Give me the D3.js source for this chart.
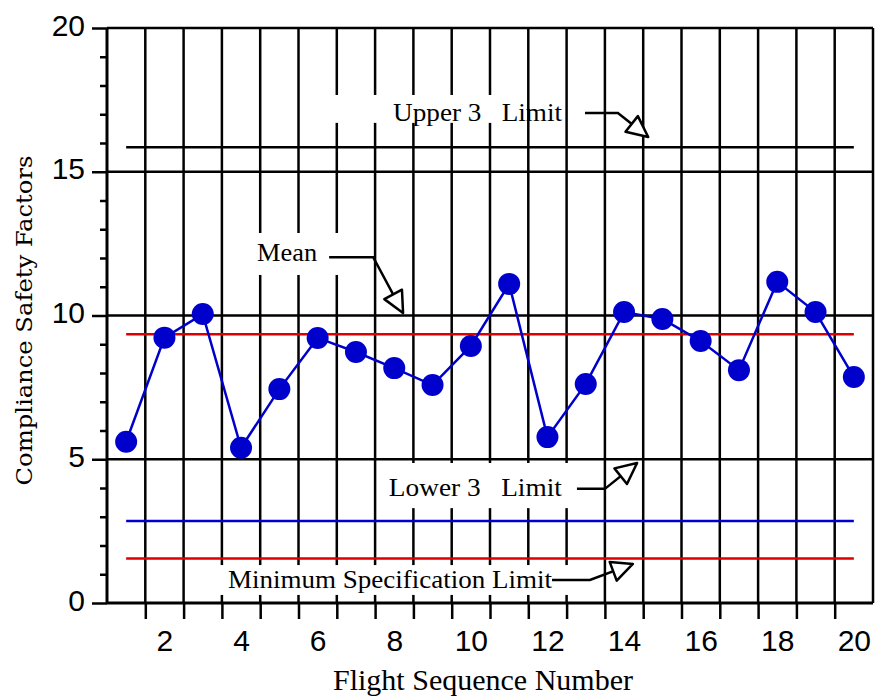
<!DOCTYPE html>
<html>
<head>
<meta charset="utf-8">
<script src="https://cdn.jsdelivr.net/npm/d3@7"></script>
<style>
  body { margin: 0; background: #fff; }
  svg { display: block; }
</style>
</head>
<body>
<svg id="chart" width="875" height="696"></svg>
<script>
// values
const flights = d3.range(1, 21);
const safetyFactors = [5.61, 9.23, 10.05, 5.40, 7.44, 9.22, 8.73, 8.17, 7.58, 8.94,
                       11.10, 5.77, 7.62, 10.12, 9.88, 9.11, 8.10, 11.17, 10.12, 7.86];
const upperLimit = 15.85;
const meanValue = 9.35;
const lowerLimit = 2.85;
const minSpec = 1.55;
const yMajorTicks = [0, 5, 10, 15, 20];
const xTickLabels = [2, 4, 6, 8, 10, 12, 14, 16, 18, 20];

let svg = d3.select("#chart");
let x = d3.scaleLinear().domain([0.5, 20.5]).range([107, 873]);
let y = d3.scaleLinear().domain([0, 20]).range([603, 28]);

const BLUE = "#0000cc";
const RED = "#dd0000";

// arrow head marker
svg.append("defs").append("marker")
    .attr("id", "open-arrow")
    .attr("markerUnits", "userSpaceOnUse")
    .attr("viewBox", "-24 -13 27 26")
    .attr("refX", 0).attr("refY", 0)
    .attr("markerWidth", 27).attr("markerHeight", 26)
    .attr("orient", "auto")
  .append("path")
    .attr("d", "M0,0 L-21,-10 L-21,10 Z")
    .attr("fill", "#fff")
    .attr("stroke", "#000")
    .attr("stroke-width", 2.5)
    .attr("stroke-linejoin", "round");

// grid
let grid = svg.append("g");
grid.selectAll("line.v")
    .data(d3.range(0.5, 20.6, 1))
    .enter().append("line")
    .attr("class", "v")
    .attr("x1", d => x(d)).attr("x2", d => x(d))
    .attr("y1", y(20)).attr("y2", y(0))
    .attr("stroke", "#000")
    .attr("stroke-width", d => d === 0.5 ? 3 : 2.5);
grid.selectAll("line.h")
    .data(yMajorTicks)
    .enter().append("line")
    .attr("class", "h")
    .attr("x1", x(0.5)).attr("x2", x(20.5))
    .attr("y1", d => y(d)).attr("y2", d => y(d))
    .attr("stroke", "#000")
    .attr("stroke-width", d => d === 0 ? 3 : 2.5);

// y axis: major ticks with labels, minor ticks every unit
let yAxis = svg.append("g")
    .attr("transform", `translate(${x(0.5)},0)`)
    .call(d3.axisLeft(y).tickValues(yMajorTicks).tickSize(15).tickPadding(7));
yAxis.select(".domain").remove();
yAxis.selectAll("line").attr("stroke-width", 2.5);
yAxis.selectAll("text")
    .attr("dy", "0.24em")
    .style("font-family", "'Liberation Sans', Arial, sans-serif")
    .style("font-size", "30px")
    .attr("fill", "#000");

let yMinor = svg.append("g")
    .attr("transform", `translate(${x(0.5)},0)`)
    .call(d3.axisLeft(y).tickValues(d3.range(0, 21).filter(v => v % 5 !== 0)).tickSize(7).tickFormat(""));
yMinor.select(".domain").remove();
yMinor.selectAll("line").attr("stroke-width", 2.5);

// x axis: ticks between flights, labels on even flights
let xTicks = svg.append("g")
    .attr("transform", `translate(0,${y(0)})`)
    .call(d3.axisBottom(x).tickValues(d3.range(1.5, 20, 1)).tickSize(16).tickFormat(""));
xTicks.select(".domain").remove();
xTicks.selectAll("line").attr("stroke-width", 2.5);

let xLabels = svg.append("g")
    .attr("transform", `translate(0,${y(0)})`)
    .call(d3.axisBottom(x).tickValues(xTickLabels).tickSize(0).tickPadding(27));
xLabels.select(".domain").remove();
xLabels.selectAll("text")
    .style("font-family", "'Liberation Sans', Arial, sans-serif")
    .style("font-size", "30px")
    .attr("fill", "#000");

// white boxes behind the annotations
const boxes = [
    {x0: 6.32, x1: 10.76, y0: 17.67, y1: 16.70},
    {x0: 4.43, x1: 6.71, y0: 12.87, y1: 11.41},
    {x0: 7.76, x1: 12.85, y0: 4.87, y1: 3.30},
    {x0: 3.32, x1: 12.72, y0: 1.32, y1: 0.28}
];
svg.append("g").selectAll("rect")
    .data(boxes)
    .enter().append("rect")
    .attr("x", d => x(d.x0))
    .attr("y", d => y(d.y0))
    .attr("width", d => x(d.x1) - x(d.x0))
    .attr("height", d => y(d.y1) - y(d.y0))
    .attr("fill", "#fff");

// limit lines
const limits = [
    {v: upperLimit, color: "#000"},
    {v: meanValue, color: RED},
    {v: lowerLimit, color: BLUE},
    {v: minSpec, color: RED}
];
svg.append("g").selectAll("line")
    .data(limits)
    .enter().append("line")
    .attr("x1", x(1)).attr("x2", x(20))
    .attr("y1", d => y(d.v)).attr("y2", d => y(d.v))
    .attr("stroke", d => d.color)
    .attr("stroke-width", 2.5);

// data series
let line = d3.line().x((d, i) => x(flights[i])).y(d => y(d));
svg.append("path")
    .datum(safetyFactors)
    .attr("d", line)
    .attr("fill", "none")
    .attr("stroke", BLUE)
    .attr("stroke-width", 2.5);
svg.append("g").selectAll("circle")
    .data(safetyFactors)
    .enter().append("circle")
    .attr("cx", (d, i) => x(flights[i]))
    .attr("cy", d => y(d))
    .attr("r", 11)
    .attr("fill", BLUE);

// annotations
const notes = [
    {text: "Upper 3   Limit", tx: 7.97, ty: 17.04, len: 169, pts: [[12.98, 17.04], [13.84, 17.04], [14.63, 16.21]]},
    {text: "Mean", tx: 4.42, ty: 12.17, len: 60, pts: [[6.30, 12.03], [7.45, 12.03], [8.23, 10.09]]},
    {text: "Lower 3   Limit", tx: 7.86, ty: 3.99, len: 173, pts: [[12.77, 3.97], [13.50, 3.97], [14.34, 4.87]]},
    {text: "Minimum Specification Limit", tx: 3.66, ty: 0.80, len: 324, pts: [[12.12, 0.80], [13.11, 0.80], [14.23, 1.36]]}
];
let noteG = svg.append("g");
noteG.selectAll("text")
    .data(notes)
    .enter().append("text")
    .attr("x", d => x(d.tx))
    .attr("y", d => y(d.ty) + 8)
    .attr("textLength", d => d.len)
    .attr("lengthAdjust", "spacingAndGlyphs")
    .style("white-space", "pre")
    .style("font-family", "'Liberation Serif', 'Times New Roman', serif")
    .style("font-size", "25px")
    .attr("fill", "#000")
    .text(d => d.text);
noteG.selectAll("path")
    .data(notes)
    .enter().append("path")
    .attr("d", d => d3.line().x(p => x(p[0])).y(p => y(p[1]))(d.pts))
    .attr("fill", "none")
    .attr("stroke", "#000")
    .attr("stroke-width", 2.5)
    .attr("marker-end", "url(#open-arrow)");

// axis titles
svg.append("text")
    .attr("transform", `translate(32, ${y(10) + 5}) rotate(-90)`)
    .attr("text-anchor", "middle")
    .attr("textLength", 330)
    .attr("lengthAdjust", "spacingAndGlyphs")
    .style("font-family", "'DejaVu Serif', serif")
    .style("font-size", "22px")
    .text("Compliance Safety Factors");

svg.append("text")
    .attr("x", 483)
    .attr("y", 690)
    .attr("text-anchor", "middle")
    .attr("textLength", 300)
    .attr("lengthAdjust", "spacingAndGlyphs")
    .style("font-family", "'Liberation Serif', 'Times New Roman', serif")
    .style("font-size", "30px")
    .text("Flight Sequence Number");
</script>
</body>
</html>
